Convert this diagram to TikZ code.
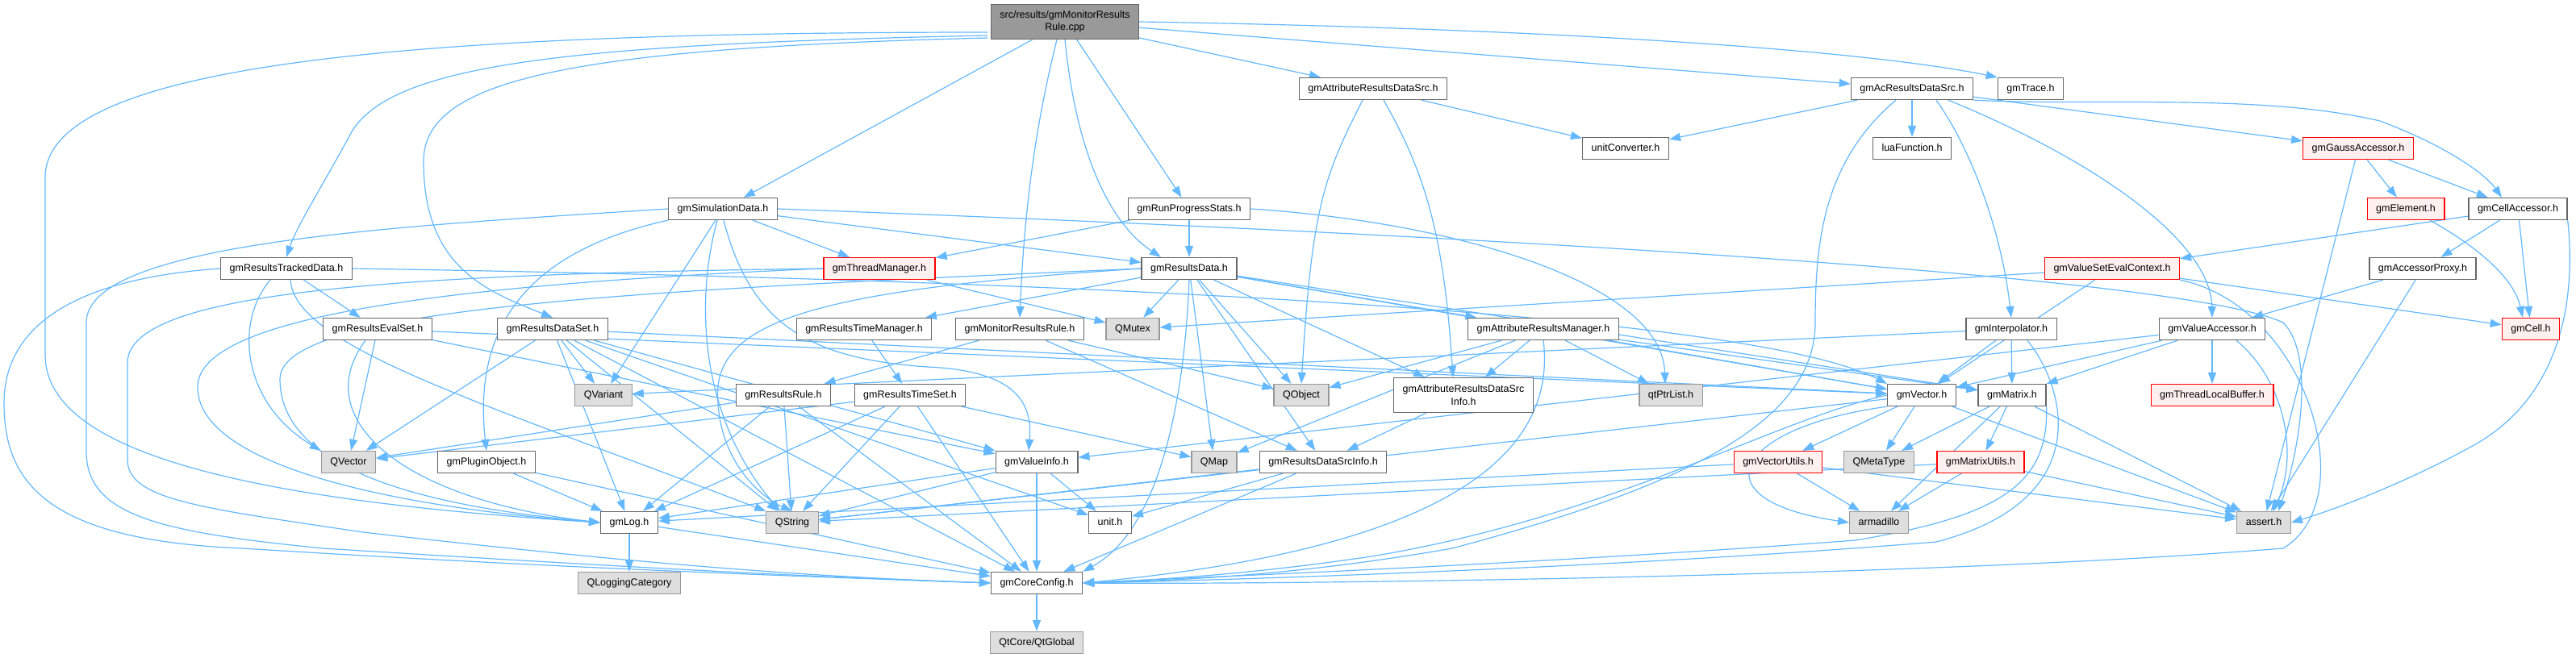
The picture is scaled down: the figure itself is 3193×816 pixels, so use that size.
\documentclass[tikz,border=0pt]{standalone}
\usepackage{fontspec}
\setmainfont{Liberation Sans}
\usetikzlibrary{arrows.meta}
\pgfdeclarelayer{bg}
\pgfsetlayers{bg,main}
\definecolor{edgeblue}{HTML}{63B8FF}
\definecolor{gforty}{HTML}{666666}
\definecolor{gsixty}{HTML}{999999}
\definecolor{gextfill}{HTML}{DEDEDE}
\definecolor{pinkfill}{HTML}{FFF0F0}
\newcommand\gfont{\fontsize{12.5}{15.5}\selectfont}
\begin{document}
\begin{tikzpicture}[x=1pt,y=-1pt,
  nb/.style={draw=gforty, fill=white, line width=1.3pt, font=\gfont, inner xsep=11pt, inner ysep=0pt, minimum height=27pt},
  box/.style={nb, text height=9.5pt, text depth=2.5pt},
  ext/.style={box, draw=gsixty, fill=gextfill},
  redbox/.style={box, draw=red, fill=pinkfill},
  rootbox/.style={nb, fill=gsixty, draw=gforty, align=center, minimum height=43pt},
  twoline/.style={nb, align=center, minimum height=43pt},
  dep/.style={draw=edgeblue, line width=1.2pt, -{Triangle[length=14pt,width=10pt]}}]
\useasboundingbox (0,0) rectangle (3193,816);
\node[rootbox] (root) at (1320,27) {src/results/gmMonitorResults\\Rule.cpp};
\node[box] (gARDS) at (1702,110) {gmAttributeResultsDataSrc.h};
\node[box] (gAcRDS) at (2370,110) {gmAcResultsDataSrc.h};
\node[box] (gmTrace) at (2517,110) {gmTrace.h};
\node[box] (unitConv) at (2015,184) {unitConverter.h};
\node[box] (luaF) at (2370,184) {luaFunction.h};
\node[redbox] (gGauss) at (2923,184) {gmGaussAccessor.h};
\node[box] (gSimData) at (896,259) {gmSimulationData.h};
\node[box] (gRunProg) at (1474,259) {gmRunProgressStats.h};
\node[redbox] (gElement) at (2982,259) {gmElement.h};
\node[box] (gCellAcc) at (3121,259) {gmCellAccessor.h};
\node[box] (gResTracked) at (355,333) {gmResultsTrackedData.h};
\node[redbox] (gThreadMgr) at (1090,333) {gmThreadManager.h};
\node[box] (gResData) at (1474,333) {gmResultsData.h};
\node[redbox] (gVSEC) at (2618,333) {gmValueSetEvalContext.h};
\node[box] (gAccProxy) at (3003,333) {gmAccessorProxy.h};
\node[box] (gResEvalSet) at (468,408) {gmResultsEvalSet.h};
\node[box] (gResDataSet) at (685,408) {gmResultsDataSet.h};
\node[box] (gResTimeMgr) at (1071,408) {gmResultsTimeManager.h};
\node[box] (gMonRR) at (1264,408) {gmMonitorResultsRule.h};
\node[ext] (QMutex) at (1404,408) {QMutex};
\node[box] (gAttrRM) at (1913,408) {gmAttributeResultsManager.h};
\node[box] (gInterp) at (2493,408) {gmInterpolator.h};
\node[box] (gValAcc) at (2742,408) {gmValueAccessor.h};
\node[redbox] (gCell) at (3137,408) {gmCell.h};
\node[ext] (QVariant) at (748,490) {QVariant};
\node[box] (gResRule) at (971,490) {gmResultsRule.h};
\node[box] (gResTimeSet) at (1128,490) {gmResultsTimeSet.h};
\node[ext] (QObject) at (1613,490) {QObject};
\node[twoline] (gARDSInfo) at (1814,490) {gmAttributeResultsDataSrc\\Info.h};
\node[ext] (qtPtrList) at (2071,490) {qtPtrList.h};
\node[box] (gVector) at (2382,490) {gmVector.h};
\node[box] (gMatrix) at (2494,490) {gmMatrix.h};
\node[redbox] (gTLB) at (2742,490) {gmThreadLocalBuffer.h};
\node[ext] (QVector) at (432,573) {QVector};
\node[box] (gPlugin) at (603,573) {gmPluginObject.h};
\node[box] (gValueInfo) at (1285,573) {gmValueInfo.h};
\node[ext] (QMap) at (1505,573) {QMap};
\node[box] (gRDSInfo) at (1640,573) {gmResultsDataSrcInfo.h};
\node[redbox] (gVecUtils) at (2204,573) {gmVectorUtils.h};
\node[ext] (QMetaType) at (2329,573) {QMetaType};
\node[redbox] (gMatUtils) at (2455,573) {gmMatrixUtils.h};
\node[box] (gmLog) at (780,648) {gmLog.h};
\node[ext] (QString) at (982,648) {QString};
\node[box] (unit) at (1376,648) {unit.h};
\node[ext] (armadillo) at (2329,648) {armadillo};
\node[ext] (assert) at (2806,648) {assert.h};
\node[ext] (QLogCat) at (780,723) {QLoggingCategory};
\node[box] (gCoreConfig) at (1285,723) {gmCoreConfig.h};
\node[ext] (QtGlobal) at (1285,797) {QtCore/QtGlobal};
\coordinate (rootL1) at (1224,40);
\coordinate (rootL2) at (1224,44);
\coordinate (rootL3) at (1224,47);
\begin{pgfonlayer}{bg}
\foreach \a/\b in {root/gSimData, root/gRunProg, root/gARDS, root/gAcRDS,
  gARDS/unitConv, gAcRDS/unitConv, gAcRDS/luaF, gAcRDS/gGauss,
  gGauss/gElement, gGauss/gCellAcc, gGauss/assert, gCellAcc/gVSEC, gCellAcc/gAccProxy, gCellAcc/gCell,
  gAccProxy/gValAcc, gAccProxy/assert, gVSEC/gCell, gVSEC/QMutex, gVSEC/gVector,
  gValAcc/gVector, gValAcc/gMatrix, gValAcc/gTLB, gValAcc/gValueInfo,
  gInterp/gVector, gInterp/gMatrix, gInterp/QVariant,
  gVector/gVecUtils, gVector/QMetaType, gVector/assert, gVector/QString,
  gMatrix/QMetaType, gMatrix/gMatUtils, gMatrix/armadillo, gMatrix/assert,
  gVecUtils/armadillo, gVecUtils/assert, gVecUtils/gmLog,
  gMatUtils/armadillo, gMatUtils/assert, gMatUtils/QString,
  gSimData/gThreadMgr, gSimData/gResData, gSimData/QVariant,
  gRunProg/gThreadMgr, gRunProg/gResData,
  gThreadMgr/QMutex,
  gResData/QMutex, gResData/gResTimeMgr, gResData/gAttrRM, gResData/gARDSInfo, gResData/gRDSInfo,
  gResData/gVector, gResData/gMatrix, gResData/QObject, gResData/QMap,
  gResTimeMgr/gResTimeSet,
  gMonRR/gResRule, gMonRR/QObject, gMonRR/gRDSInfo,
  gResRule/QVector, gResRule/gmLog, gResRule/QString, gResRule/gCoreConfig,
  gResTimeSet/QVector, gResTimeSet/QMap, gResTimeSet/gmLog, gResTimeSet/QString, gResTimeSet/gCoreConfig,
  gAttrRM/QObject, gAttrRM/gARDSInfo, gAttrRM/qtPtrList, gAttrRM/gVector, gAttrRM/gMatrix, gAttrRM/QMap,
  gARDSInfo/gRDSInfo,
  gRDSInfo/QString, gRDSInfo/unit, gRDSInfo/gCoreConfig,
  gResTracked/gResEvalSet,
  gResEvalSet/QVector, gResEvalSet/gVector, gResEvalSet/gValueInfo,
  gResDataSet/QVariant, gResDataSet/QVector, gResDataSet/QString, gResDataSet/gCoreConfig,
  gResDataSet/gValueInfo, gResDataSet/gVector, gResDataSet/unit, gResDataSet/gmLog,
  gValueInfo/gmLog, gValueInfo/QString, gValueInfo/unit, gValueInfo/gCoreConfig,
  gPlugin/gmLog, gPlugin/gCoreConfig,
  gmLog/QLogCat, gmLog/gCoreConfig, gCoreConfig/QtGlobal}
  \draw[dep] (\a) -- (\b);
% root curves
\draw[dep] (rootL2) .. controls (700,55) and (480,80) .. (434,167) .. controls (400,230) and (368,280) .. (gResTracked.north);
\draw[dep] (rootL3) .. controls (700,60) and (525,100) .. (525,200) .. controls (525,330) and (600,360) .. (gResDataSet.north);
\draw[dep] (rootL1) .. controls (500,40) and (56,80) .. (56,220) -- (56,440) .. controls (56,560) and (300,620) .. (gmLog.west);
\draw[dep] ([xshift=-10pt]root.south) .. controls (1285,150) and (1270,250) .. (gMonRR.north);
\draw[dep] (root.south) .. controls (1335,200) and (1380,280) .. ([xshift=-35pt]gResData.north);
\draw[dep] (root.east) .. controls (1900,35) and (2300,60) .. (gmTrace.north west);
% gARDS
\draw[dep] ([xshift=-13pt]gARDS.south) .. controls (1640,220) and (1626,260) .. (QObject.north);
\draw[dep] ([xshift=13pt]gARDS.south) .. controls (1770,220) and (1790,300) .. ([xshift=-13pt]gARDSInfo.north);
% gAcRDS
\draw[dep] (gAcRDS.south east) .. controls (2600,132) and (2800,115) .. (2950,150) .. controls (3030,180) and (3080,215) .. ([xshift=-20pt]gCellAcc.north);
\draw[dep] ([xshift=30pt]gAcRDS.south) .. controls (2440,180) and (2480,280) .. (gInterp.north);
\draw[dep] ([xshift=45pt]gAcRDS.south) .. controls (2600,200) and (2740,300) .. (gValAcc.north);
\draw[dep] ([xshift=-20pt]gAcRDS.south) .. controls (2260,200) and (2250,300) .. (2250,400) .. controls (2250,520) and (2100,600) .. (1800,680) .. controls (1600,715) and (1450,720) .. (gCoreConfig.east);
% right side
\draw[dep] (gCellAcc.south east) .. controls (3190,340) and (3190,480) .. (3070,550) .. controls (2990,595) and (2900,630) .. (assert.east);
\draw[dep] ([xshift=30pt]gElement.south) .. controls (3060,300) and (3115,340) .. ([xshift=-10pt]gCell.north);
\draw[dep] (gVSEC.south east) .. controls (2860,380) and (2930,620) .. (2830,680) .. controls (2400,715) and (1600,725) .. (gCoreConfig.east);
\draw[dep] ([xshift=30pt]gValAcc.south) .. controls (2830,470) and (2850,560) .. ([xshift=12pt]assert.north);
\draw[dep] ([xshift=20pt]gInterp.south) .. controls (2560,480) and (2600,620) .. (2400,672) .. controls (2000,705) and (1500,720) .. (gCoreConfig.east);
\draw[dep] (gVector.south west) .. controls (2150,530) and (2100,620) .. (armadillo.west);
\draw[dep] (gVector.west) .. controls (2200,520) and (2000,640) .. (1700,690) .. controls (1550,712) and (1450,718) .. (gCoreConfig.east);
\draw[dep] (gMatrix.south east) .. controls (2540,600) and (2480,640) .. (2300,670) .. controls (1900,700) and (1500,715) .. (gCoreConfig.east);
% gSimData
\draw[dep] ([xshift=-7pt]gSimData.south) .. controls (860,380) and (870,520) .. ([xshift=-15pt]QString.north);
\draw[dep] ([xshift=1pt]gSimData.south) .. controls (930,400) and (1000,445) .. (1150,455) .. controls (1260,460) and (1280,500) .. ([xshift=-10pt]gValueInfo.north);
\draw[dep] (gSimData.south west) .. controls (660,310) and (585,400) .. (gPlugin.north);
\draw[dep] (gSimData.west) .. controls (500,280) and (107,300) .. (107,400) -- (107,560) .. controls (107,640) and (200,660) .. (400,680) .. controls (800,705) and (1000,715) .. (gCoreConfig.west);
\draw[dep] (gSimData.east) .. controls (1800,290) and (2700,340) .. (2830,400) .. controls (2870,440) and (2850,560) .. ([xshift=18pt]assert.north);
% gRunProg
\draw[dep] (gRunProg.east) .. controls (1800,275) and (2060,350) .. ([xshift=-7pt]qtPtrList.north);
% gThreadMgr
\draw[dep] (gThreadMgr.west) .. controls (500,340) and (158,360) .. (158,450) -- (158,570) .. controls (158,620) and (250,630) .. (450,660) .. controls (800,700) and (1000,715) .. (gCoreConfig.west);
\draw[dep] (gThreadMgr.west) .. controls (500,355) and (245,400) .. (245,480) .. controls (245,580) and (500,630) .. (gmLog.west);
% gResData
\draw[dep] (gResData.west) .. controls (800,360) and (347,380) .. (347,470) .. controls (347,590) and (550,630) .. (gmLog.west);
\draw[dep] (gResData.west) .. controls (1000,360) and (880,400) .. (890,500) .. controls (895,580) and (950,620) .. (QString.north);
\draw[dep] (gResData.south) .. controls (1470,450) and (1450,650) .. (gCoreConfig.north east);
% gAttrRM
\draw[dep] (gAttrRM.south) .. controls (1930,560) and (1800,680) .. (gCoreConfig.east);
% gResTracked
\draw[dep] (gResTracked.west) .. controls (100,345) and (5,400) .. (5,500) .. controls (5,600) and (60,670) .. (300,680) .. controls (700,705) and (1000,715) .. (gCoreConfig.west);
\draw[dep] ([xshift=-20pt]gResTracked.south) .. controls (290,400) and (300,500) .. (QVector.north west);
\draw[dep] ([xshift=5pt]gResTracked.south) .. controls (365,430) and (600,500) .. (QString.north west);
\draw[dep] (gResTracked.east) .. controls (1200,345) and (2150,380) .. (gVector.north west);
% gResEvalSet
\draw[dep] ([xshift=-15pt]gResEvalSet.south) .. controls (380,520) and (500,620) .. (gmLog.west);
\end{pgfonlayer}
\end{tikzpicture}
\end{document}
